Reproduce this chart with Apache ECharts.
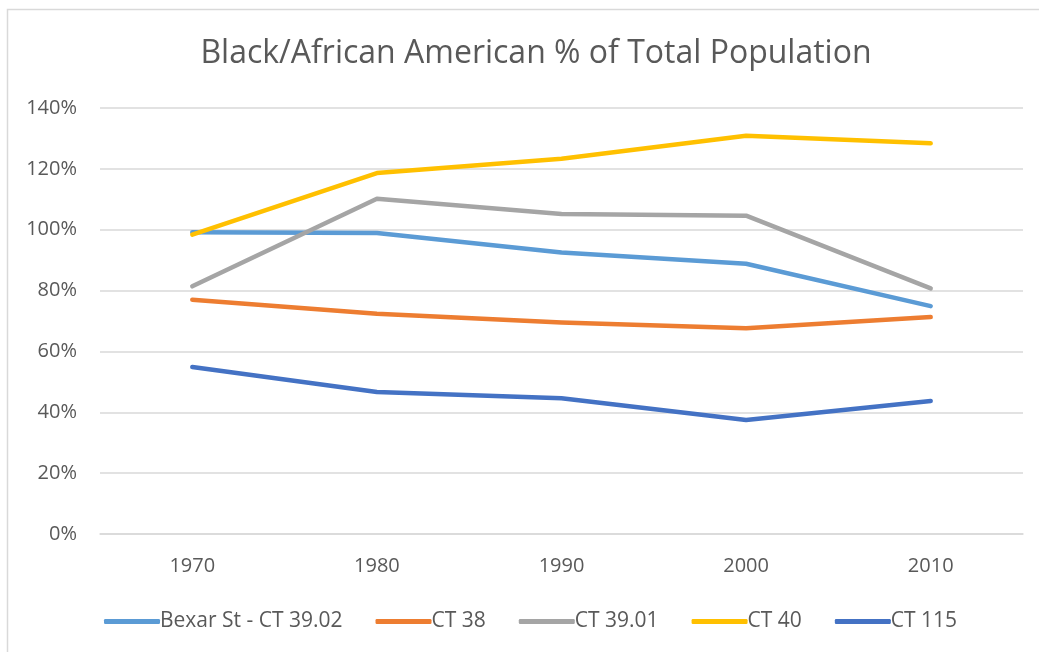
<!DOCTYPE html>
<html>
<head>
<meta charset="utf-8">
<script src="https://cdn.jsdelivr.net/npm/echarts@6/dist/echarts.min.js"></script>
<style>
  html, body { margin: 0; padding: 0; background: #ffffff; }
  #chart { width: 1039px; height: 652px; }
</style>
</head>
<body>
<div id="chart"></div>
<script>
// Census years
const years = ['1970', '1980', '1990', '2000', '2010'];

// Black/African American share of total population (%), per tract
const bexarSt = [99.2, 98.9, 92.5, 88.8, 74.9];
const ct38 = [77.0, 72.4, 69.5, 67.6, 71.3];
const ct3901 = [81.4, 110.2, 105.2, 104.6, 80.7];
const ct40 = [98.4, 118.6, 123.3, 130.9, 128.4];
const ct115 = [54.9, 46.7, 44.6, 37.5, 43.7];

const seriesNames = ['Bexar St - CT 39.02', 'CT 38', 'CT 39.01', 'CT 40', 'CT 115'];
const seriesColors = ['#5B9BD5', '#ED7D31', '#A5A5A5', '#FFC000', '#4472C4'];
const seriesData = [bexarSt, ct38, ct3901, ct40, ct115];

const FONT = '"Open Sans", "Liberation Sans", sans-serif';
const TEXT = '#595959';

const chart = echarts.init(document.getElementById('chart'), null, { renderer: 'canvas' });

chart.setOption({
  backgroundColor: '#ffffff',
  animation: false,
  title: {
    text: 'Black/African American % of Total Population',
    left: 531,
    textAlign: 'center',
    top: 33,
    textStyle: { fontFamily: FONT, fontSize: 32, fontWeight: 'normal', color: TEXT }
  },
  graphic: [{
    type: 'rect',
    shape: { x: 7.5, y: 9.5, width: 1040, height: 660 },
    style: { fill: 'none', stroke: '#D9D9D9', lineWidth: 1.5 },
    silent: true
  }],
  legend: {
    left: 99,
    top: 606,
    icon: 'roundRect',
    itemWidth: 56,
    itemHeight: 5,
    itemGap: 33,
    itemStyle: { borderWidth: 0 },
    textStyle: { fontFamily: FONT, fontSize: 21, color: TEXT, padding: [0, 0, 0, -5] },
    data: seriesNames
  },
  grid: { left: 100, right: 16, top: 108, bottom: 118, containLabel: false },
  xAxis: {
    type: 'category',
    data: years,
    boundaryGap: true,
    axisLine: { show: true, lineStyle: { color: '#D9D9D9', width: 1.5 } },
    axisTick: { show: false },
    axisLabel: { fontFamily: FONT, fontSize: 20, color: TEXT, margin: 22 }
  },
  yAxis: {
    type: 'value',
    min: 0,
    max: 140,
    interval: 20,
    axisLine: { show: false },
    axisTick: { show: false },
    splitLine: { lineStyle: { color: '#D9D9D9', width: 1.5 } },
    axisLabel: { fontFamily: FONT, fontSize: 20, color: TEXT, margin: 23, formatter: '{value}%' }
  },
  series: seriesNames.map((name, i) => ({
    name: name,
    type: 'line',
    data: seriesData[i],
    color: seriesColors[i],
    showSymbol: false,
    symbol: 'none',
    lineStyle: { width: 4.5, color: seriesColors[i], cap: 'round', join: 'round' }
  }))
});
</script>
</body>
</html>
